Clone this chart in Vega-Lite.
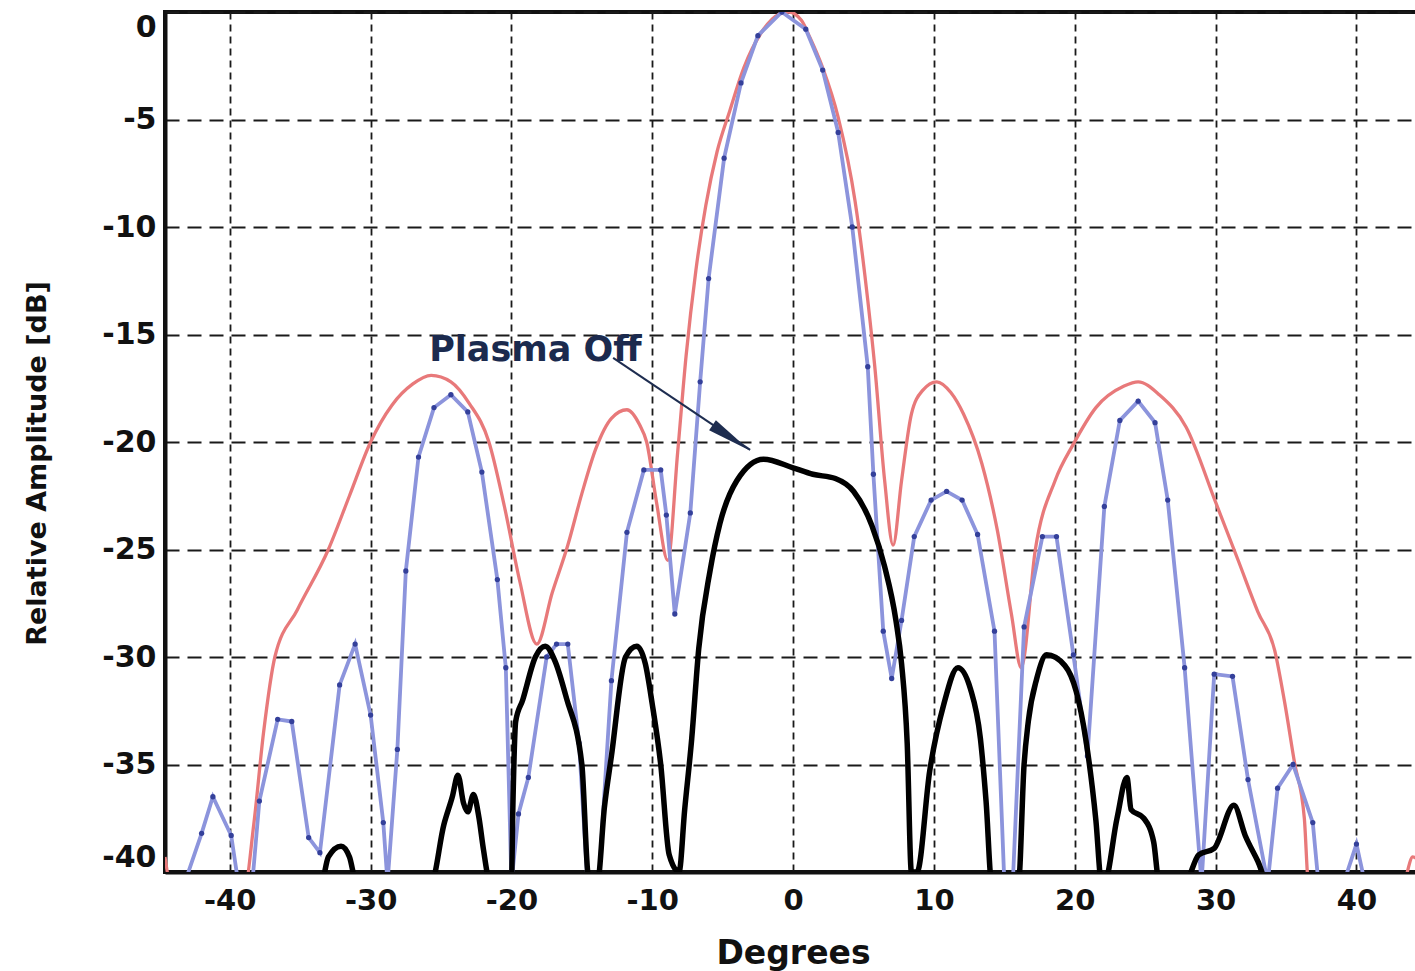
{
  "$schema": "https://vega.github.io/schema/vega-lite/v6.json",
  "autosize": {"type": "none"},
  "width": 1252,
  "height": 860,
  "padding": {"left": 165, "top": 12, "right": 0, "bottom": 99},
  "background": "white",
  "config": {
    "view": {"stroke": "#111", "strokeWidth": 4},
    "axis": {
      "labelFont": "DejaVu Sans", "labelFontWeight": "bold", "labelFontSize": 29, "labelColor": "#111",
      "titleFont": "DejaVu Sans", "titleFontWeight": "bold", "titleColor": "#111",
      "domainColor": "#111", "domainWidth": 4, "ticks": false,
      "gridColor": "#1a1a1a", "gridOpacity": 1,
      "labelExpr": "'' + datum.value"
    }
  },
  "datasets": {
    "curves": [
      {"series": "red", "deg": -44.6, "db": -39.3},
      {"series": "red", "deg": -44.2, "db": -40.5},
      {"series": "red", "deg": -38.9, "db": -40.5},
      {"series": "red", "deg": -38.3, "db": -37.8},
      {"series": "red", "deg": -37.6, "db": -33.5},
      {"series": "red", "deg": -36.8, "db": -30.0},
      {"series": "red", "deg": -35.2, "db": -27.8},
      {"series": "red", "deg": -33.0, "db": -25.0},
      {"series": "red", "deg": -31.5, "db": -22.5},
      {"series": "red", "deg": -30.0, "db": -20.0},
      {"series": "red", "deg": -28.5, "db": -18.3},
      {"series": "red", "deg": -27.0, "db": -17.3},
      {"series": "red", "deg": -25.7, "db": -16.9},
      {"series": "red", "deg": -24.3, "db": -17.2},
      {"series": "red", "deg": -23.0, "db": -18.2},
      {"series": "red", "deg": -21.6, "db": -20.0},
      {"series": "red", "deg": -20.5, "db": -23.0},
      {"series": "red", "deg": -19.4, "db": -26.5},
      {"series": "red", "deg": -18.2, "db": -29.4},
      {"series": "red", "deg": -17.1, "db": -27.0},
      {"series": "red", "deg": -16.0, "db": -24.8},
      {"series": "red", "deg": -15.0, "db": -22.4},
      {"series": "red", "deg": -14.0, "db": -20.3},
      {"series": "red", "deg": -12.9, "db": -18.9},
      {"series": "red", "deg": -11.8, "db": -18.5},
      {"series": "red", "deg": -10.9, "db": -19.2},
      {"series": "red", "deg": -10.4, "db": -20.0},
      {"series": "red", "deg": -9.7, "db": -22.8},
      {"series": "red", "deg": -8.9, "db": -25.5},
      {"series": "red", "deg": -8.2, "db": -20.5},
      {"series": "red", "deg": -7.6, "db": -16.0},
      {"series": "red", "deg": -6.9, "db": -12.0},
      {"series": "red", "deg": -6.2, "db": -9.0},
      {"series": "red", "deg": -5.4, "db": -6.5},
      {"series": "red", "deg": -4.5, "db": -4.6},
      {"series": "red", "deg": -3.5, "db": -2.6},
      {"series": "red", "deg": -2.3, "db": -1.0},
      {"series": "red", "deg": -1.0, "db": -0.1},
      {"series": "red", "deg": -0.3, "db": 0.0},
      {"series": "red", "deg": 0.6, "db": -0.4},
      {"series": "red", "deg": 1.2, "db": -1.2},
      {"series": "red", "deg": 2.1, "db": -2.6},
      {"series": "red", "deg": 3.2, "db": -4.9},
      {"series": "red", "deg": 4.4, "db": -8.8},
      {"series": "red", "deg": 5.3, "db": -13.4},
      {"series": "red", "deg": 5.8, "db": -16.5},
      {"series": "red", "deg": 6.5, "db": -21.8},
      {"series": "red", "deg": 7.1, "db": -24.8},
      {"series": "red", "deg": 7.7, "db": -21.8},
      {"series": "red", "deg": 8.4, "db": -18.7},
      {"series": "red", "deg": 9.2, "db": -17.6},
      {"series": "red", "deg": 10.2, "db": -17.2},
      {"series": "red", "deg": 11.2, "db": -17.7},
      {"series": "red", "deg": 12.1, "db": -18.7},
      {"series": "red", "deg": 13.4, "db": -21.0},
      {"series": "red", "deg": 14.5, "db": -24.1},
      {"series": "red", "deg": 15.5, "db": -28.0},
      {"series": "red", "deg": 16.2, "db": -30.5},
      {"series": "red", "deg": 17.2, "db": -25.0},
      {"series": "red", "deg": 18.6, "db": -21.8},
      {"series": "red", "deg": 19.9, "db": -20.1},
      {"series": "red", "deg": 21.5, "db": -18.4},
      {"series": "red", "deg": 23.5, "db": -17.4},
      {"series": "red", "deg": 24.5, "db": -17.2},
      {"series": "red", "deg": 26.0, "db": -17.8},
      {"series": "red", "deg": 27.9, "db": -19.3},
      {"series": "red", "deg": 30.0, "db": -22.8},
      {"series": "red", "deg": 31.6, "db": -25.5},
      {"series": "red", "deg": 33.0, "db": -27.9},
      {"series": "red", "deg": 34.2, "db": -29.7},
      {"series": "red", "deg": 34.9, "db": -32.1},
      {"series": "red", "deg": 35.6, "db": -34.9},
      {"series": "red", "deg": 36.3, "db": -37.5},
      {"series": "red", "deg": 36.6, "db": -40.5},
      {"series": "red", "deg": 43.3, "db": -40.5},
      {"series": "red", "deg": 44.0, "db": -39.3},
      {"series": "red", "deg": 44.6, "db": -39.6},

      {"series": "blue", "deg": -44.6, "db": -40.5},
      {"series": "blue", "deg": -43.2, "db": -40.5},
      {"series": "blue", "deg": -42.0, "db": -38.2},
      {"series": "blue", "deg": -41.2, "db": -36.5},
      {"series": "blue", "deg": -39.9, "db": -38.3},
      {"series": "blue", "deg": -39.4, "db": -40.5},
      {"series": "blue", "deg": -38.4, "db": -40.5},
      {"series": "blue", "deg": -37.9, "db": -36.7},
      {"series": "blue", "deg": -36.6, "db": -32.9},
      {"series": "blue", "deg": -35.6, "db": -33.0},
      {"series": "blue", "deg": -34.4, "db": -38.4},
      {"series": "blue", "deg": -33.6, "db": -39.1},
      {"series": "blue", "deg": -32.2, "db": -31.3},
      {"series": "blue", "deg": -31.1, "db": -29.4},
      {"series": "blue", "deg": -30.0, "db": -32.7},
      {"series": "blue", "deg": -29.1, "db": -37.7},
      {"series": "blue", "deg": -28.8, "db": -40.5},
      {"series": "blue", "deg": -28.1, "db": -34.3},
      {"series": "blue", "deg": -27.5, "db": -26.0},
      {"series": "blue", "deg": -26.6, "db": -20.7},
      {"series": "blue", "deg": -25.5, "db": -18.4},
      {"series": "blue", "deg": -24.3, "db": -17.8},
      {"series": "blue", "deg": -23.1, "db": -18.6},
      {"series": "blue", "deg": -22.1, "db": -21.4},
      {"series": "blue", "deg": -21.0, "db": -26.4},
      {"series": "blue", "deg": -20.4, "db": -30.5},
      {"series": "blue", "deg": -20.0, "db": -40.5},
      {"series": "blue", "deg": -19.5, "db": -37.3},
      {"series": "blue", "deg": -18.8, "db": -35.6},
      {"series": "blue", "deg": -17.5, "db": -30.0},
      {"series": "blue", "deg": -16.8, "db": -29.4},
      {"series": "blue", "deg": -16.0, "db": -29.4},
      {"series": "blue", "deg": -15.2, "db": -34.0},
      {"series": "blue", "deg": -14.6, "db": -40.5},
      {"series": "blue", "deg": -13.8, "db": -40.5},
      {"series": "blue", "deg": -12.9, "db": -31.1},
      {"series": "blue", "deg": -11.8, "db": -24.2},
      {"series": "blue", "deg": -10.6, "db": -21.3},
      {"series": "blue", "deg": -9.4, "db": -21.3},
      {"series": "blue", "deg": -9.0, "db": -23.4},
      {"series": "blue", "deg": -8.4, "db": -28.0},
      {"series": "blue", "deg": -7.3, "db": -23.3},
      {"series": "blue", "deg": -6.6, "db": -17.2},
      {"series": "blue", "deg": -6.0, "db": -12.4},
      {"series": "blue", "deg": -4.9, "db": -6.8},
      {"series": "blue", "deg": -3.7, "db": -3.3},
      {"series": "blue", "deg": -2.5, "db": -1.1},
      {"series": "blue", "deg": -0.8, "db": 0.0},
      {"series": "blue", "deg": 0.9, "db": -0.8},
      {"series": "blue", "deg": 2.1, "db": -2.7},
      {"series": "blue", "deg": 3.2, "db": -5.6},
      {"series": "blue", "deg": 4.2, "db": -10.0},
      {"series": "blue", "deg": 5.3, "db": -16.5},
      {"series": "blue", "deg": 5.7, "db": -21.5},
      {"series": "blue", "deg": 6.4, "db": -28.8},
      {"series": "blue", "deg": 7.0, "db": -31.0},
      {"series": "blue", "deg": 7.7, "db": -28.3},
      {"series": "blue", "deg": 8.6, "db": -24.4},
      {"series": "blue", "deg": 9.8, "db": -22.7},
      {"series": "blue", "deg": 10.9, "db": -22.3},
      {"series": "blue", "deg": 12.0, "db": -22.7},
      {"series": "blue", "deg": 13.1, "db": -24.3},
      {"series": "blue", "deg": 14.3, "db": -28.8},
      {"series": "blue", "deg": 15.0, "db": -40.5},
      {"series": "blue", "deg": 15.6, "db": -40.5},
      {"series": "blue", "deg": 16.4, "db": -28.6},
      {"series": "blue", "deg": 17.7, "db": -24.4},
      {"series": "blue", "deg": 18.7, "db": -24.4},
      {"series": "blue", "deg": 19.9, "db": -29.9},
      {"series": "blue", "deg": 20.9, "db": -34.6},
      {"series": "blue", "deg": 22.1, "db": -23.0},
      {"series": "blue", "deg": 23.2, "db": -19.0},
      {"series": "blue", "deg": 24.5, "db": -18.1},
      {"series": "blue", "deg": 25.7, "db": -19.1},
      {"series": "blue", "deg": 26.6, "db": -22.7},
      {"series": "blue", "deg": 27.8, "db": -30.5},
      {"series": "blue", "deg": 29.0, "db": -40.5},
      {"series": "blue", "deg": 29.9, "db": -30.8},
      {"series": "blue", "deg": 31.2, "db": -30.9},
      {"series": "blue", "deg": 32.3, "db": -35.7},
      {"series": "blue", "deg": 33.7, "db": -40.5},
      {"series": "blue", "deg": 34.4, "db": -36.1},
      {"series": "blue", "deg": 35.5, "db": -35.0},
      {"series": "blue", "deg": 36.9, "db": -37.7},
      {"series": "blue", "deg": 37.3, "db": -40.5},
      {"series": "blue", "deg": 39.1, "db": -40.5},
      {"series": "blue", "deg": 40.0, "db": -38.7},
      {"series": "blue", "deg": 40.6, "db": -40.5},
      {"series": "blue", "deg": 44.3, "db": -40.5},

      {"series": "black", "deg": -44.6, "db": -40.5},
      {"series": "black", "deg": -33.5, "db": -40.5},
      {"series": "black", "deg": -33.0, "db": -39.3},
      {"series": "black", "deg": -32.1, "db": -38.8},
      {"series": "black", "deg": -31.5, "db": -39.3},
      {"series": "black", "deg": -31.0, "db": -40.5},
      {"series": "black", "deg": -25.7, "db": -40.5},
      {"series": "black", "deg": -24.8, "db": -37.8},
      {"series": "black", "deg": -24.2, "db": -36.5},
      {"series": "black", "deg": -23.8, "db": -35.5},
      {"series": "black", "deg": -23.4, "db": -36.8},
      {"series": "black", "deg": -23.1, "db": -37.2},
      {"series": "black", "deg": -22.7, "db": -36.4},
      {"series": "black", "deg": -22.3, "db": -37.5},
      {"series": "black", "deg": -22.0, "db": -38.9},
      {"series": "black", "deg": -21.5, "db": -40.5},
      {"series": "black", "deg": -20.0, "db": -40.5},
      {"series": "black", "deg": -19.9, "db": -37.0},
      {"series": "black", "deg": -19.7, "db": -33.0},
      {"series": "black", "deg": -19.2, "db": -32.0},
      {"series": "black", "deg": -18.3, "db": -30.0},
      {"series": "black", "deg": -17.6, "db": -29.5},
      {"series": "black", "deg": -16.9, "db": -30.2},
      {"series": "black", "deg": -16.1, "db": -31.9},
      {"series": "black", "deg": -15.0, "db": -35.0},
      {"series": "black", "deg": -14.6, "db": -39.9},
      {"series": "black", "deg": -14.5, "db": -40.5},
      {"series": "black", "deg": -13.9, "db": -40.5},
      {"series": "black", "deg": -13.4, "db": -37.0},
      {"series": "black", "deg": -12.9, "db": -34.6},
      {"series": "black", "deg": -11.9, "db": -30.0},
      {"series": "black", "deg": -11.1, "db": -29.5},
      {"series": "black", "deg": -10.5, "db": -30.3},
      {"series": "black", "deg": -10.0, "db": -32.2},
      {"series": "black", "deg": -9.4, "db": -35.0},
      {"series": "black", "deg": -8.8, "db": -39.2},
      {"series": "black", "deg": -8.1, "db": -40.0},
      {"series": "black", "deg": -7.7, "db": -37.1},
      {"series": "black", "deg": -7.2, "db": -33.8},
      {"series": "black", "deg": -6.7, "db": -29.6},
      {"series": "black", "deg": -5.9, "db": -26.0},
      {"series": "black", "deg": -5.2, "db": -23.8},
      {"series": "black", "deg": -4.0, "db": -21.8},
      {"series": "black", "deg": -2.1, "db": -20.8},
      {"series": "black", "deg": 0.0, "db": -21.2},
      {"series": "black", "deg": 1.4, "db": -21.5},
      {"series": "black", "deg": 3.0, "db": -21.7},
      {"series": "black", "deg": 4.3, "db": -22.3},
      {"series": "black", "deg": 5.6, "db": -23.9},
      {"series": "black", "deg": 6.5, "db": -25.8},
      {"series": "black", "deg": 7.3, "db": -28.3},
      {"series": "black", "deg": 7.7, "db": -30.3},
      {"series": "black", "deg": 8.1, "db": -34.0},
      {"series": "black", "deg": 8.4, "db": -40.0},
      {"series": "black", "deg": 8.8, "db": -40.0},
      {"series": "black", "deg": 9.7, "db": -35.3},
      {"series": "black", "deg": 10.7, "db": -32.2},
      {"series": "black", "deg": 11.7, "db": -30.5},
      {"series": "black", "deg": 12.6, "db": -31.5},
      {"series": "black", "deg": 13.3, "db": -33.8},
      {"series": "black", "deg": 13.7, "db": -36.7},
      {"series": "black", "deg": 14.1, "db": -40.5},
      {"series": "black", "deg": 16.0, "db": -40.5},
      {"series": "black", "deg": 16.4, "db": -35.0},
      {"series": "black", "deg": 16.7, "db": -33.0},
      {"series": "black", "deg": 17.3, "db": -31.0},
      {"series": "black", "deg": 18.0, "db": -29.9},
      {"series": "black", "deg": 19.3, "db": -30.4},
      {"series": "black", "deg": 20.1, "db": -31.6},
      {"series": "black", "deg": 20.8, "db": -33.9},
      {"series": "black", "deg": 21.5, "db": -37.6},
      {"series": "black", "deg": 21.9, "db": -40.5},
      {"series": "black", "deg": 22.1, "db": -40.5},
      {"series": "black", "deg": 23.0, "db": -37.5},
      {"series": "black", "deg": 23.7, "db": -35.6},
      {"series": "black", "deg": 24.0, "db": -37.1},
      {"series": "black", "deg": 24.9, "db": -37.5},
      {"series": "black", "deg": 25.6, "db": -38.6},
      {"series": "black", "deg": 26.0, "db": -40.5},
      {"series": "black", "deg": 27.8, "db": -40.5},
      {"series": "black", "deg": 28.8, "db": -39.2},
      {"series": "black", "deg": 29.9, "db": -38.9},
      {"series": "black", "deg": 31.3, "db": -36.9},
      {"series": "black", "deg": 32.1, "db": -38.3},
      {"series": "black", "deg": 33.0, "db": -39.5},
      {"series": "black", "deg": 33.7, "db": -40.5},
      {"series": "black", "deg": 44.3, "db": -40.5}
    ]
  },
  "encoding": {
    "x": {
      "field": "deg", "type": "quantitative",
      "scale": {"domain": [-44.6, 44.3], "nice": false, "zero": false},
      "axis": {
        "values": [-40, -30, -20, -10, 0, 10, 20, 30, 40],
        "title": "Degrees", "titleFontSize": 33, "labelPadding": 14,
        "gridDash": [7, 5], "gridWidth": 1.8,
        "titleX": 628, "titleY": 91, "titleBaseline": "alphabetic", "titleAlign": "center"
      }
    },
    "y": {
      "field": "db", "type": "quantitative",
      "scale": {"domain": [-40, 0], "nice": false, "zero": false},
      "axis": {
        "values": [0, -5, -10, -15, -20, -25, -30, -35, -40],
        "title": "Relative Amplitude [dB]", "titleFontSize": 27, "labelPadding": 9, "labelFontSize": 30,
        "labelFlush": true, "labelFlushOffset": 0,
        "gridDash": [14, 8], "gridWidth": 2,
        "titleX": -120, "titleY": 451, "titleAngle": -90, "titleBaseline": "alphabetic", "titleAlign": "center"
      }
    }
  },
  "layer": [
    {
      "data": {"name": "curves"},
      "transform": [{"filter": "datum.series === 'red'"}],
      "mark": {"type": "line", "interpolate": "monotone", "color": "#e8797a", "strokeWidth": 3.3, "clip": true}
    },
    {
      "data": {"name": "curves"},
      "transform": [{"filter": "datum.series === 'blue'"}],
      "mark": {"type": "line", "color": "#8c94dc", "strokeWidth": 3.8, "clip": true}
    },
    {
      "data": {"name": "curves"},
      "transform": [{"filter": "datum.series === 'blue' && datum.db > -39.8"}],
      "mark": {"type": "point", "filled": true, "color": "#34409a", "size": 28, "opacity": 1, "clip": true}
    },
    {
      "data": {"name": "curves"},
      "transform": [{"filter": "datum.series === 'black'"}],
      "mark": {"type": "line", "interpolate": "monotone", "color": "#000", "strokeWidth": 5.5, "clip": true}
    },
    {
      "data": {"values": [{"deg": -12.78, "db": -16.09, "deg2": -3.05, "db2": -20.37}]},
      "mark": {"type": "rule", "color": "#1e2d50", "strokeWidth": 2},
      "encoding": {
        "x2": {"field": "deg2"},
        "y2": {"field": "db2"}
      }
    },
    {
      "data": {"values": [{"deg": -4.4, "db": -19.81}]},
      "mark": {"type": "point", "shape": "M1,0L-1,-0.27L-1,0.27Z", "filled": true, "color": "#1e2d50", "size": 2025, "angle": 34, "opacity": 1}
    },
    {
      "data": {"values": [{"label": "Plasma Off", "deg": -18.3, "db": -15.72}]},
      "mark": {"type": "text", "font": "DejaVu Sans", "fontWeight": "bold", "fontSize": 35, "color": "#1b2a4e", "align": "center", "baseline": "middle"},
      "encoding": {"text": {"field": "label"}}
    }
  ]
}
